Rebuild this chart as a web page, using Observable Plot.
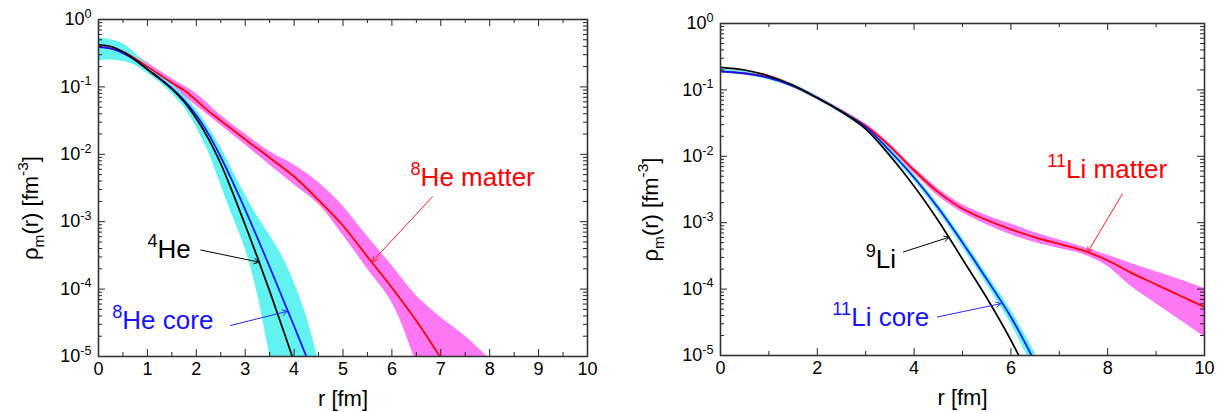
<!DOCTYPE html>
<html><head><meta charset="utf-8">
<script src="https://cdn.jsdelivr.net/npm/d3@7"></script>
<script src="https://cdn.jsdelivr.net/npm/@observablehq/plot@0.6"></script>
<style>
body{margin:0;background:#fff;}
#wrap{position:relative;width:1219px;height:412px;overflow:hidden;}
#left{position:absolute;left:0;top:0;}
#right{position:absolute;left:610px;top:0;}
</style></head>
<body><div id="wrap"><div id="left"></div><div id="right"></div></div>
<script>
const FONT = '"Liberation Sans", Arial, Helvetica, sans-serif';

// ---------- Left panel (He isotopes): log10 of rho_m [fm^-3] vs r [fm] ----------
const rHe4 = [0,0.25,0.5,0.75,1,1.25,1.5,1.75,2,2.25,2.5,2.75,3,3.25,3.5,3.75,4];
const logHe4 = [-0.375,-0.40,-0.48,-0.60,-0.74,-0.88,-1.03,-1.22,-1.47,-1.77,-2.14,-2.58,-3.05,-3.53,-4.03,-4.55,-5.08];

const rHe8Core = [0,0.25,0.5,0.75,1,1.25,1.5,1.75,2,2.25,2.5,2.75,3,3.25,3.5,3.75,4,4.25,4.5];
const logHe8Core = [-0.41,-0.43,-0.50,-0.60,-0.74,-0.87,-1.02,-1.20,-1.42,-1.70,-2.04,-2.42,-2.82,-3.24,-3.67,-4.11,-4.55,-5.00,-5.45];
const logHe8CoreHi = [-0.27,-0.30,-0.36,-0.50,-0.67,-0.81,-0.96,-1.13,-1.34,-1.60,-1.90,-2.25,-2.60,-2.92,-3.20,-3.50,-3.90,-4.40,-5.05];
const logHe8CoreLo = [-0.61,-0.60,-0.62,-0.68,-0.80,-0.93,-1.10,-1.30,-1.60,-1.97,-2.45,-2.93,-3.40,-4.07,-4.97,-5.80,-6.50,-7.00,-7.50];

const rHe8 = [0,0.5,1,1.5,1.75,2,2.25,2.5,3,3.5,4,4.5,5,5.5,6,6.5,7,7.25];
const logHe8 = [-0.40,-0.48,-0.70,-0.94,-1.05,-1.20,-1.36,-1.50,-1.78,-2.05,-2.33,-2.68,-3.06,-3.52,-3.98,-4.47,-5.02,-5.30];
const rHe8Band = [0,0.5,1,1.5,2,2.5,3,3.5,4,4.5,5,5.5,6,6.5,7,7.5,8,8.25];
const logHe8Hi = [-0.33,-0.42,-0.64,-0.88,-1.10,-1.42,-1.70,-1.96,-2.16,-2.42,-2.77,-3.22,-3.65,-4.10,-4.42,-4.70,-5.05,-5.30];
const logHe8Lo = [-0.48,-0.54,-0.75,-1.00,-1.28,-1.57,-1.86,-2.16,-2.45,-2.74,-3.20,-3.70,-4.20,-5.10,-6.20,-7.00,-7.50,-7.70];

// ---------- Right panel (Li isotopes) ----------
const rLi9 = [0,0.5,1,1.5,2,2.5,3,3.5,4,4.5,5,5.5,6,6.5];
const logLi9 = [-0.66,-0.70,-0.79,-0.93,-1.12,-1.33,-1.59,-1.99,-2.45,-2.97,-3.55,-4.13,-4.77,-5.50];

const rLi11Core = [0,0.5,1,1.5,2,2.5,3,3.5,4,4.5,5,5.5,6,6.5];
const logLi11Core = [-0.72,-0.75,-0.82,-0.94,-1.12,-1.33,-1.56,-1.92,-2.32,-2.78,-3.30,-3.85,-4.42,-5.10];
const logLi11CoreHi = [-0.69,-0.72,-0.79,-0.91,-1.09,-1.30,-1.52,-1.87,-2.27,-2.72,-3.23,-3.77,-4.32,-4.96];
const logLi11CoreLo = [-0.75,-0.78,-0.85,-0.97,-1.15,-1.36,-1.60,-1.97,-2.37,-2.84,-3.37,-3.93,-4.52,-5.25];

const rLi11 = [0,0.5,1,1.5,2,2.5,3,3.5,4,4.5,5,5.5,6,6.5,7,7.5,8,8.5,9,9.5,10];
const logLi11 = [-0.72,-0.75,-0.81,-0.94,-1.12,-1.32,-1.54,-1.85,-2.21,-2.54,-2.79,-2.96,-3.10,-3.22,-3.32,-3.42,-3.57,-3.76,-3.93,-4.10,-4.27];
const logLi11Hi = [-0.69,-0.72,-0.78,-0.91,-1.09,-1.29,-1.51,-1.81,-2.17,-2.49,-2.73,-2.89,-3.02,-3.15,-3.26,-3.37,-3.49,-3.62,-3.74,-3.86,-3.99];
const logLi11Lo = [-0.75,-0.78,-0.84,-0.97,-1.15,-1.35,-1.57,-1.89,-2.26,-2.60,-2.85,-3.03,-3.18,-3.30,-3.39,-3.48,-3.66,-3.97,-4.22,-4.47,-4.72];

// ---------- Ticks ----------
const xTicksLeft = [0,1,2,3,4,5,6,7,8,9,10];
const xMinorLeft = [0.5,1.5,2.5,3.5,4.5,5.5,6.5,7.5,8.5,9.5];
const xTicksRight = [0,2,4,6,8,10];
const xMinorRight = [1,3,5,7,9];
const yTickExps = [-5,-4,-3,-2,-1,0];
const minorMultipliers = [2,3,4,5,6,7,8,9];

// ---------- Annotations (label position / arrow ends in data units, y as log10) ----------
const labelsLeft = [
  {text:"^{8}He matter", r:6.38, lg:-2.35, color:"#ff0000"},
  {text:"^{4}He", r:1.0, lg:-3.42, color:"#000000"},
  {text:"^{8}He core", r:0.28, lg:-4.47, color:"#1414ff"}
];
const arrowsLeft = [
  {r1:6.83, lg1:-2.63, r2:5.60, lg2:-3.59, color:"#ff2020"},
  {r1:2.09, lg1:-3.42, r2:3.28, lg2:-3.60, color:"#000000"},
  {r1:2.70, lg1:-4.54, r2:3.86, lg2:-4.33, color:"#2a2aff"}
];
const labelsRight = [
  {text:"^{11}Li matter", r:6.75, lg:-2.20, color:"#ff0000"},
  {text:"^{9}Li", r:3.0, lg:-3.56, color:"#000000"},
  {text:"^{11}Li core", r:2.31, lg:-4.43, color:"#1414ff"}
];
const arrowsRight = [
  {r1:8.30, lg1:-2.57, r2:7.59, lg2:-3.44, color:"#ff2020"},
  {r1:3.78, lg1:-3.44, r2:4.72, lg2:-3.22, color:"#000000"},
  {r1:4.48, lg1:-4.42, r2:5.79, lg2:-4.22, color:"#2a2aff"}
];

const yLabel = "\u03c1_{m}(r) [fm^{-3}]";
const xLabel = "r [fm]";

// ---------- helpers ----------
const rows = (r, lg) => r.map((x, i) => ({r: x, rho: Math.pow(10, lg[i])}));
const band = (r, hi, lo) => r.map((x, i) => ({r: x, hi: Math.pow(10, hi[i]), lo: Math.pow(10, lo[i])}));

function richify(svg) {
  const NS = "http://www.w3.org/2000/svg";
  svg.querySelectorAll("text").forEach(el => {
    if (el.querySelector("tspan")) return;
    const s = el.textContent;
    if (!/[\^_]\{/.test(s)) return;
    const fs = parseFloat(getComputedStyle(el).fontSize) || 17;
    const parts = []; let last = 0, m; const re = /(\^|_)\{([^}]*)\}/g;
    while ((m = re.exec(s))) {
      if (m.index > last) parts.push({t: s.slice(last, m.index), k: ""});
      parts.push({t: m[2], k: m[1]}); last = re.lastIndex;
    }
    if (last < s.length) parts.push({t: s.slice(last), k: ""});
    el.textContent = "";
    let cur = 0;
    parts.forEach(p => {
      const ts = document.createElementNS(NS, "tspan");
      const target = p.k === "^" ? -0.42 * fs : p.k === "_" ? 0.28 * fs : 0;
      if (target !== cur) ts.setAttribute("dy", (target - cur).toFixed(2));
      cur = target;
      if (p.k) ts.setAttribute("font-size", (0.7 * fs).toFixed(2));
      ts.textContent = p.t;
      el.appendChild(ts);
    });
  });
}

function makePanel(cfg) {
  const H = 412;
  const fw = cfg.width - cfg.ml - cfg.mr, fh = H - cfg.mt - cfg.mb;
  const tMaj = 7, tMin = 4, tc = "#222";
  const yMaj = yTickExps.map(e => Math.pow(10, e));
  const yMin = [];
  yTickExps.slice(0, -1).forEach(e => minorMultipliers.forEach(k => yMin.push(k * Math.pow(10, e))));
  const marks = [];
  const curve = "catmull-rom";
  cfg.bands.forEach(b => marks.push(Plot.areaY(b.data, {x: "r", y1: "lo", y2: "hi", fill: b.color, curve, clip: true})));
  cfg.lines.forEach(l => marks.push(Plot.line(l.data, {x: "r", y: "rho", stroke: l.color, strokeWidth: l.w || 1.7, curve, clip: true})));
  marks.push(
    Plot.tickX(cfg.xMajor, {x: d => d, insetTop: fh - tMaj, stroke: tc}),
    Plot.tickX(cfg.xMajor, {x: d => d, insetBottom: fh - tMaj, stroke: tc}),
    Plot.tickX(cfg.xMinor, {x: d => d, insetTop: fh - tMin, stroke: tc}),
    Plot.tickX(cfg.xMinor, {x: d => d, insetBottom: fh - tMin, stroke: tc}),
    Plot.tickY(yMaj, {y: d => d, insetRight: fw - tMaj, stroke: tc}),
    Plot.tickY(yMaj, {y: d => d, insetLeft: fw - tMaj, stroke: tc}),
    Plot.tickY(yMin, {y: d => d, insetRight: fw - tMin, stroke: tc}),
    Plot.tickY(yMin, {y: d => d, insetLeft: fw - tMin, stroke: tc}),
    Plot.frame({stroke: "#333", strokeWidth: 1.6}),
    Plot.axisX({ticks: cfg.xMajor, tickSize: 0, tickPadding: 6, tickFormat: d => String(d), label: null, fontSize: 18}),
    Plot.axisY({ticks: yMaj, tickSize: 0, tickPadding: 7, tickFormat: d => "10^{" + Math.round(Math.log10(d)) + "}", label: null, fontSize: 18}),
    Plot.text([xLabel], {frameAnchor: "bottom", dy: 42, fontSize: 22, textAnchor: "middle", lineAnchor: "middle", fill: "#000"}),
    Plot.text([yLabel], {frameAnchor: "left", dx: cfg.ylabDx, dy: 20, rotate: -90, fontSize: 22, textAnchor: "middle", lineAnchor: "middle", fill: "#000"})
  );
  cfg.arrows.forEach(a => marks.push(Plot.arrow([a], {
    x1: "r1", y1: d => Math.pow(10, d.lg1), x2: "r2", y2: d => Math.pow(10, d.lg2),
    stroke: a.color, strokeWidth: 1, headLength: 8, bend: 0
  })));
  cfg.labels.forEach(l => marks.push(Plot.text([l], {
    x: "r", y: d => Math.pow(10, d.lg), text: "text", fill: l.color, fontSize: 26,
    textAnchor: "start", lineAnchor: "middle"
  })));
  return Plot.plot({
    width: cfg.width, height: H,
    marginLeft: cfg.ml, marginRight: cfg.mr, marginTop: cfg.mt, marginBottom: cfg.mb,
    x: {domain: [0, 10]},
    y: {type: "log", domain: [1e-5, 1]},
    style: {fontFamily: FONT, fontSize: "18px", color: "#000", background: "transparent", overflow: "visible"},
    marks
  });
}

const left = makePanel({
  width: 610, ml: 98, mr: 23, mt: 19, mb: 56, ylabDx: -68,
  xMajor: xTicksLeft, xMinor: xMinorLeft,
  bands: [
    {data: band(rHe8Band, logHe8Hi, logHe8Lo), color: "#ff78f3"},
    {data: band(rHe8Core, logHe8CoreHi, logHe8CoreLo), color: "#62f2f2"}
  ],
  lines: [
    {data: rows(rHe8, logHe8), color: "#ff0000", w: 1.8},
    {data: rows(rHe8Core, logHe8Core), color: "#1010ff", w: 1.7},
    {data: rows(rHe4, logHe4), color: "#000000", w: 1.7}
  ],
  labels: labelsLeft, arrows: arrowsLeft
});
const right = makePanel({
  width: 609, ml: 110, mr: 15, mt: 23, mb: 57, ylabDx: -70,
  xMajor: xTicksRight, xMinor: xMinorRight,
  bands: [
    {data: band(rLi11, logLi11Hi, logLi11Lo), color: "#ff78f3"},
    {data: band(rLi11Core, logLi11CoreHi, logLi11CoreLo), color: "#62f2f2"}
  ],
  lines: [
    {data: rows(rLi11, logLi11), color: "#ff0000", w: 1.8},
    {data: rows(rLi11Core, logLi11Core), color: "#1010ff", w: 1.7},
    {data: rows(rLi9, logLi9), color: "#000000", w: 1.7}
  ],
  labels: labelsRight, arrows: arrowsRight
});
document.getElementById("left").appendChild(left);
document.getElementById("right").appendChild(right);
richify(left);
richify(right);
</script>
</body></html>
